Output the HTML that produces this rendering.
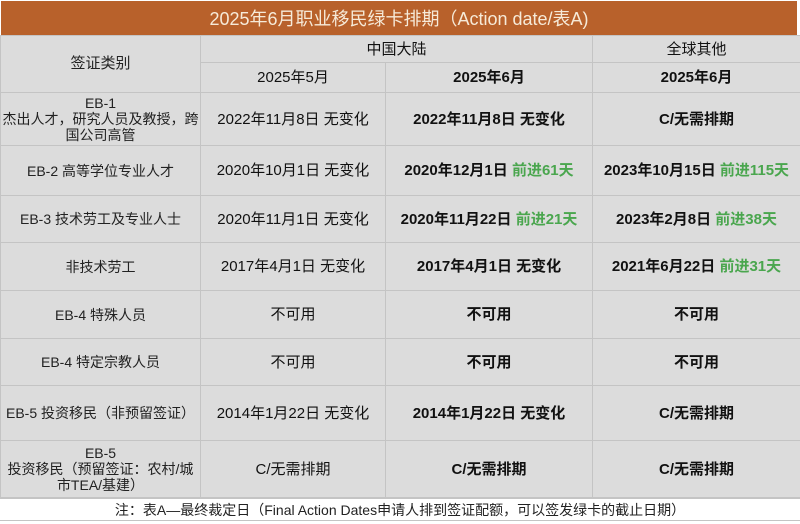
<!DOCTYPE html>
<html><head><meta charset="utf-8">
<style>
*{margin:0;padding:0;box-sizing:border-box}
body{width:800px;height:524px;background:#fff;font-family:"Liberation Sans","Noto Sans CJK SC",sans-serif;color:#111;position:relative;overflow:hidden}
.title{position:absolute;left:1px;top:1px;width:796px;height:34px;background:#b8612b;color:#f6ead8;font-size:18px;display:flex;align-items:center;justify-content:center}
table{position:absolute;left:0;top:35px;width:800px;border-collapse:collapse;table-layout:fixed;background:#dcdcdc}
td{border:1px solid #c4c4c4;text-align:center;vertical-align:middle;font-size:15px;line-height:17px;padding:0;overflow:hidden}
.b{font-weight:bold}
.g{color:#4aa64e}
.note{position:absolute;left:0;top:498px;width:800px;height:23px;background:#fff;border-top:1px solid #c4c4c4;border-bottom:1px solid #c4c4c4;font-size:14px;text-align:center;line-height:22px;color:#222}
.l{font-size:14px;line-height:16px;color:#222}
</style></head><body>
<div class="title">2025年6月职业移民绿卡排期（Action date/表A)</div>
<table>
<colgroup><col style="width:200px"><col style="width:185px"><col style="width:207px"><col style="width:208px"></colgroup>
<tr style="height:27px"><td rowspan="2" class="l" style="font-size:15px">签证类别</td><td colspan="2">中国大陆</td><td>全球其他</td></tr>
<tr style="height:30px"><td>2025年5月</td><td class="b">2025年6月</td><td class="b">2025年6月</td></tr>
<tr style="height:53px"><td class="l">EB-1<br>杰出人才，研究人员及教授，跨<br>国公司高管</td><td>2022年11月8日 无变化</td><td class="b">2022年11月8日 无变化</td><td class="b">C/无需排期</td></tr>
<tr style="height:50px"><td class="l">EB-2 高等学位专业人才</td><td>2020年10月1日 无变化</td><td class="b">2020年12月1日 <span class="g">前进61天</span></td><td class="b">2023年10月15日 <span class="g">前进115天</span></td></tr>
<tr style="height:47px"><td class="l">EB-3 技术劳工及专业人士</td><td>2020年11月1日 无变化</td><td class="b">2020年11月22日 <span class="g">前进21天</span></td><td class="b">2023年2月8日 <span class="g">前进38天</span></td></tr>
<tr style="height:48px"><td class="l">非技术劳工</td><td>2017年4月1日 无变化</td><td class="b">2017年4月1日 无变化</td><td class="b">2021年6月22日 <span class="g">前进31天</span></td></tr>
<tr style="height:48px"><td class="l">EB-4 特殊人员</td><td>不可用</td><td class="b">不可用</td><td class="b">不可用</td></tr>
<tr style="height:47px"><td class="l">EB-4 特定宗教人员</td><td>不可用</td><td class="b">不可用</td><td class="b">不可用</td></tr>
<tr style="height:55px"><td class="l">EB-5 投资移民（非预留签证）</td><td>2014年1月22日 无变化</td><td class="b">2014年1月22日 无变化</td><td class="b">C/无需排期</td></tr>
<tr style="height:57px"><td class="l">EB-5<br>投资移民（预留签证：农村/城<br>市TEA/基建）</td><td>C/无需排期</td><td class="b">C/无需排期</td><td class="b">C/无需排期</td></tr>
</table>
<div class="note">注：表A—最终裁定日（Final Action Dates申请人排到签证配额，可以签发绿卡的截止日期）</div>
</body></html>
